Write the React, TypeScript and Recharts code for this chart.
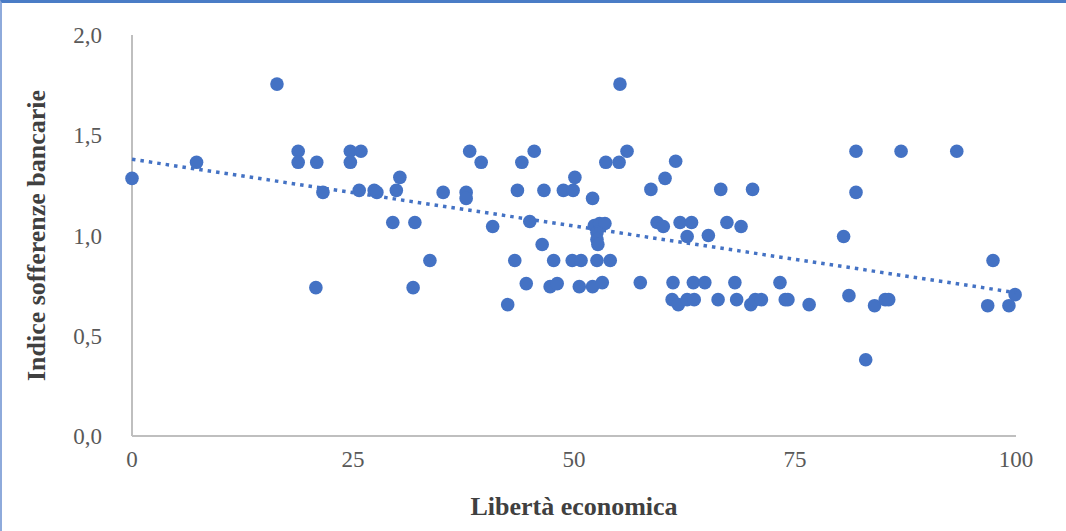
import { ScatterChart, Scatter, XAxis, YAxis, Label } from "recharts";

// Libertà economica (x) and Indice sofferenze bancarie (y)
const libertaEconomica = [
  0, 7.3, 16.4, 18.8, 18.8, 20.9, 20.8, 21.6, 24.7, 24.7, 25.9, 25.7, 27.4, 27.7, 29.9, 30.3,
  29.5, 32.0, 31.8, 33.7, 35.2, 38.2, 39.5, 37.8, 37.8, 40.8, 43.6, 44.1, 45.5, 46.6, 48.8,
  49.9, 50.1, 52.1, 52.3, 52.9, 53.5, 52.6, 52.6, 52.7, 45.0, 46.4, 55.2, 56.0, 53.6, 55.1,
  43.3, 47.7, 49.8, 50.8, 52.6, 54.1, 44.6, 47.3, 48.1, 50.6, 52.1, 53.2, 42.5, 57.5, 61.5,
  60.3, 58.7, 66.6, 70.2, 59.4, 60.1, 62.0, 63.3, 62.8, 65.2, 67.3, 68.9, 61.2, 63.5, 64.8,
  68.2, 73.3, 61.1, 61.8, 62.8, 63.6, 66.3, 68.4, 70.0, 70.5, 71.2, 73.9, 74.2, 76.6, 80.5,
  81.9, 87.0, 93.3, 81.9, 97.4, 81.1, 84.0, 85.2, 85.6, 83.0, 96.8, 99.2, 99.9,
];
const indiceSofferenze = [
  1.285, 1.365, 1.755, 1.42, 1.365, 1.365, 0.74, 1.215, 1.42, 1.365, 1.42, 1.225, 1.225, 1.215, 1.225, 1.29,
  1.065, 1.065, 0.74, 0.875, 1.215, 1.42, 1.365, 1.215, 1.185, 1.045, 1.225, 1.365, 1.42, 1.225, 1.225,
  1.225, 1.29, 1.185, 1.05, 1.06, 1.06, 1.015, 0.98, 0.955, 1.07, 0.955, 1.755, 1.42, 1.365, 1.365,
  0.875, 0.875, 0.875, 0.875, 0.875, 0.875, 0.76, 0.745, 0.76, 0.745, 0.745, 0.765, 0.655, 0.765, 1.37,
  1.285, 1.23, 1.23, 1.23, 1.065, 1.045, 1.065, 1.065, 0.995, 1.0, 1.065, 1.045, 0.765, 0.765, 0.765,
  0.765, 0.765, 0.68, 0.655, 0.68, 0.68, 0.68, 0.68, 0.655, 0.68, 0.68, 0.68, 0.68, 0.655, 0.995,
  1.42, 1.42, 1.42, 1.215, 0.875, 0.7, 0.65, 0.68, 0.68, 0.38, 0.65, 0.65, 0.705,
];

// linear trendline ends as drawn in the picture
const trendX = [0, 100];
const trendY = [1.38, 0.715];

const xTicks = [0, 25, 50, 75, 100];
const yTicks = [0, 0.5, 1, 1.5, 2];

const BLUE = "#4472C4";
const FONT = "'Liberation Serif', 'Times New Roman', serif";
const points = libertaEconomica.map((x, i) => ({ x, y: indiceSofferenze[i] }));
const trend = trendX.map((x, i) => ({ x, y: trendY[i] }));

const fmt = (v: number) => v.toFixed(1).replace(".", ",");

export default function App() {
  return (
    <div
      style={{
        position: "absolute",
        left: 0,
        top: 0,
        width: 1066,
        height: 531,
        background: "#fff",
        boxSizing: "border-box",
        borderTop: "3px solid #4A7CC6",
        borderLeft: "2px solid #8EAADB",
        fontFamily: FONT,
      }}
    >
      <ScatterChart
        width={1064}
        height={528}
        margin={{ top: 35, right: 48, left: 0, bottom: 0 }}
        style={{ position: "absolute", left: -2, top: -3 }}
      >
        <XAxis
          type="number"
          dataKey="x"
          domain={[0, 100]}
          ticks={xTicks}
          height={92}
          tickSize={0}
          tickMargin={15}
          stroke="#BFBFBF"
          strokeWidth={2}
          tick={{ fill: "#595959", fontSize: 23, fontFamily: FONT }}
        >
          <Label
            value="Libertà economica"
            position="insideBottom"
            offset={13}
            style={{ fill: "#404040", fontSize: 26, fontWeight: "bold", fontFamily: FONT }}
          />
        </XAxis>
        <YAxis
          type="number"
          dataKey="y"
          domain={[0, 2]}
          ticks={yTicks}
          width={132}
          tickSize={0}
          tickMargin={30}
          tickFormatter={fmt}
          stroke="#BFBFBF"
          strokeWidth={2}
          tick={{ fill: "#595959", fontSize: 23, fontFamily: FONT }}
        >
          <Label
            value="Indice sofferenze bancarie"
            angle={-90}
            position="insideLeft"
            offset={36}
            style={{ textAnchor: "middle", fill: "#404040", fontSize: 26, fontWeight: "bold", fontFamily: FONT }}
          />
        </YAxis>
        <Scatter
          data={points}
          fill={BLUE}
          isAnimationActive={false}
          shape={(p: any) => <circle cx={p.cx} cy={p.cy} r={6.8} fill={BLUE} />}
        />
        <Scatter
          data={trend}
          isAnimationActive={false}
          line={{ stroke: BLUE, strokeWidth: 3.5, strokeDasharray: "3.5 5" }}
          shape={() => <g />}
        />
      </ScatterChart>
    </div>
  );
}
